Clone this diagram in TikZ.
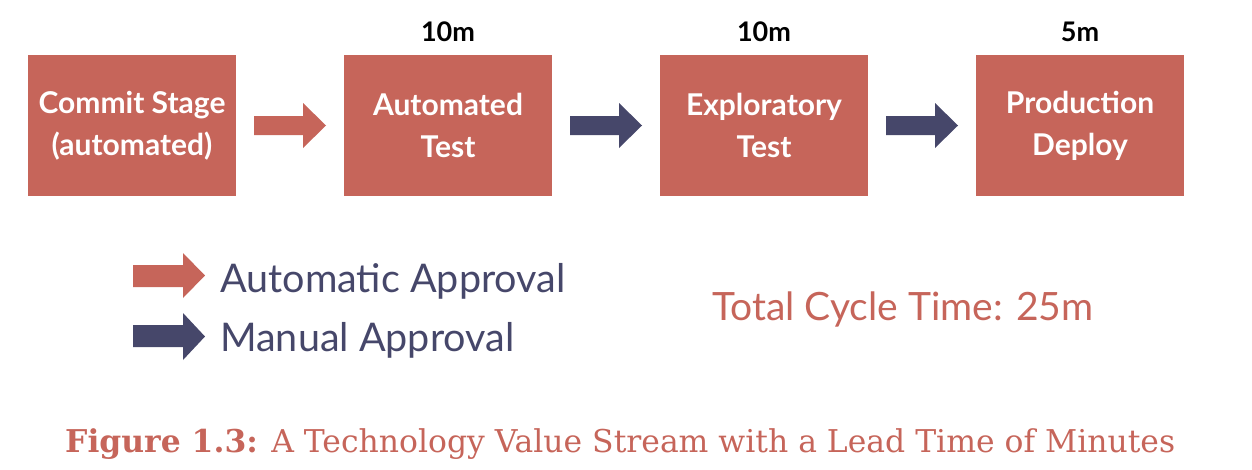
\documentclass[tikz,border=0pt]{standalone}
\usepackage{fontspec}
\setmainfont{Lato}
\newfontfamily\capfont{DejaVu Serif}
\definecolor{salmon}{HTML}{C6655A}
\definecolor{navy}{HTML}{46476A}
\begin{document}
\begin{tikzpicture}[x=1pt,y=-1pt,
  stage/.style={fill=salmon,draw=none,minimum width=208pt,minimum height=141pt,inner sep=0pt,
    text=white,align=center,font=\fontsize{30}{42}\selectfont\bfseries},
  timelbl/.style={text=black,font=\fontsize{27}{30}\selectfont\bfseries,inner sep=0pt},
  legtxt/.style={text=navy,font=\fontsize{39.5}{46}\selectfont,anchor=base west,inner sep=0pt}]
\useasboundingbox (0,0) rectangle (1252,469);
\node[stage] (s1) at (132,125.5) {Commit Stage\\(automated)};
\node[stage] (s2) at (448,125.5) {Automated\\Test};
\node[stage] (s3) at (764,125.5) {Exploratory\\Test};
\node[stage] (s4) at (1080,125.5) {Production\\Deploy};
\node[timelbl] (t2) at (448,32) {10m};
\node[timelbl] (t3) at (764,32) {10m};
\node[timelbl] (t4) at (1080,32) {5m};
% block arrows between stages
\foreach \a/\c/\x in {salmon/s1/254, navy/s2/570, navy/s3/886}{
  \fill[\a] (\x,116) -- (\x+49,116) -- (\x+49,103) -- (\x+72,125.5) -- (\x+49,148) -- (\x+49,135) -- (\x,135) -- cycle;
}
% legend arrows
\fill[salmon] (133,265) -- (183,265) -- (183,253) -- (205,275.5) -- (183,298) -- (183,287) -- (133,287) -- cycle;
\fill[navy] (133,325) -- (183,325) -- (183,313) -- (205,336.5) -- (183,360) -- (183,347) -- (133,347) -- cycle;
\node[legtxt] (l1) at (220,292) {Automatic Approval};
\node[legtxt] (l2) at (220,351) {Manual Approval};
\node[text=salmon,font=\fontsize{39}{40}\selectfont,anchor=base west,inner sep=0pt] (tot) at (712,320) {Total Cycle Time: 25m};
\node[text=salmon,anchor=base west,inner sep=0pt] (cap) at (65,452) {\resizebox{1110pt}{!}{\capfont\fontsize{29}{32}\selectfont\textbf{Figure 1.3:} A Technology Value Stream with a Lead Time of Minutes}};
\end{tikzpicture}
\end{document}
